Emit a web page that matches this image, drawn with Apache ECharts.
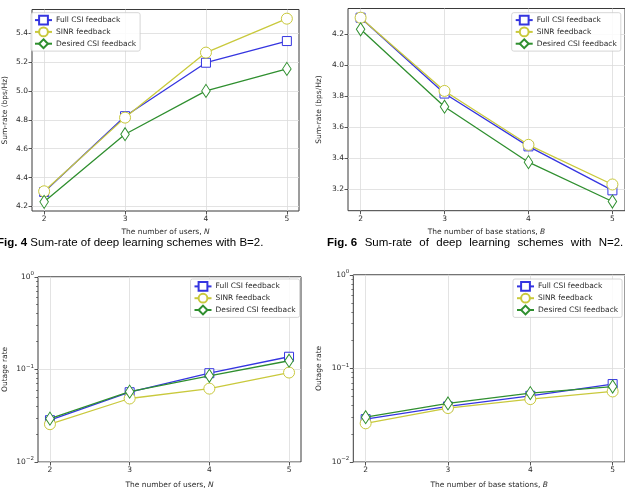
<!DOCTYPE html>
<html>
<head>
<meta charset="utf-8">
<script src="https://cdn.jsdelivr.net/npm/echarts@6/dist/echarts.min.js"></script>
<style>
html,body{margin:0;padding:0;background:#fff;}
#chart{width:625px;height:490px;}
</style>
</head>
<body>
<div id="chart"></div>
<script>
// ---------- data ----------
const xValues = [2, 3, 4, 5];
const seriesNames = ['Full CSI feedback', 'SINR feedback', 'Desired CSI feedback'];

// Fig. 4: sum-rate vs number of users N (B=2)
const rateUsersFull    = [4.300, 4.825, 5.195, 5.345];
const rateUsersSinr    = [4.305, 4.815, 5.265, 5.500];
const rateUsersDesired = [4.232, 4.700, 5.000, 5.152];

// Fig. 6: sum-rate vs number of base stations B (N=2)
const rateBsFull    = [4.305, 3.815, 3.474, 3.190];
const rateBsSinr    = [4.305, 3.832, 3.484, 3.228];
const rateBsDesired = [4.230, 3.730, 3.372, 3.118];

// outage rate vs number of users N
const outUsersFull    = [0.0283, 0.0567, 0.0910, 0.1370];
const outUsersSinr    = [0.0256, 0.0485, 0.0620, 0.0925];
const outUsersDesired = [0.0294, 0.0575, 0.0853, 0.1240];

// outage rate vs number of base stations B
const outBsFull    = [0.0287, 0.0392, 0.0510, 0.0680];
const outBsSinr    = [0.0259, 0.0377, 0.0470, 0.0567];
const outBsDesired = [0.0301, 0.0422, 0.0544, 0.0640];

// tick labels
const xTicks = [2, 3, 4, 5];
const rateUsersTicks = [4.2, 4.4, 4.6, 4.8, 5.0, 5.2, 5.4];
const rateBsTicks = [3.2, 3.4, 3.6, 3.8, 4.0, 4.2];
const minorLogTicks = [0.02,0.03,0.04,0.05,0.06,0.07,0.08,0.09,0.2,0.3,0.4,0.5,0.6,0.7,0.8,0.9];

// ---------- styling ----------
const FONT = 'DejaVu Sans';
const TXT = '#2b2b2b';
const GRIDC = '#dcdcdc';
const colors = ['#3535e0', '#c9c93c', '#2f8f2f'];
const symbols = ['rect', 'circle', 'diamond'];
const symSizes = [9, 11, [8.5, 13]];

const grids = [
  {left: 27.3, top: 9.5, width: 271.7, height: 201.5},
  {left: 348, top: 8.5, width: 278.3, height: 202.2},
  {left: 34, top: 276.8, width: 267, height: 188},
  {left: 353.3, top: 274.8, width: 272.3, height: 192.5}
].map(g => Object.assign({show: true, borderColor: '#3a3a3a', borderWidth: 1, backgroundColor: 'transparent'}, g));

const xNames = ['The number of users, {i|N}', 'The number of base stations, {i|B}',
                'The number of users, {i|N}', 'The number of base stations, {i|B}'];
const xNameGaps = [17, 17, 19, 19];

const xAxes = grids.map((g, i) => ({
  type: 'value', gridIndex: i, min: 1.85, max: 5.15,
  name: xNames[i], nameLocation: 'middle', nameGap: xNameGaps[i],
  nameTextStyle: {fontFamily: FONT, fontSize: 7.5, color: TXT, rich: {i: {fontStyle: 'italic', fontFamily: FONT, fontSize: 7.5, color: TXT}}},
  axisLine: {show: false},
  axisTick: {show: true, customValues: xTicks, length: 3.5, lineStyle: {color: TXT, width: 0.8}},
  axisLabel: {show: true, customValues: xTicks, fontFamily: FONT, fontSize: 7.5, color: TXT, margin: 4,
              formatter: v => String(Math.round(v))},
  splitLine: {show: true, lineStyle: {color: GRIDC, width: 0.8}}
}));

function supLabel(v) {
  const e = Math.round(Math.log10(v));
  return '{b|10}{s|' + (e === 0 ? '0' : '\u2212' + Math.abs(e)) + '}';
}
const logRich = {
  b: {fontFamily: FONT, fontSize: 7.5, color: TXT},
  s: {fontFamily: FONT, fontSize: 5.5, color: TXT, padding: [0, 0, 6, 0]}
};

const yAxes = [
  {type: 'value', gridIndex: 0, min: 4.1686, max: 5.5634, name: 'Sum-rate (bps/Hz)', nameGap: 23,
   axisTick: {customValues: rateUsersTicks}, axisLabel: {customValues: rateUsersTicks, formatter: v => v.toFixed(1)}},
  {type: 'value', gridIndex: 1, min: 3.0586, max: 4.3644, name: 'Sum-rate (bps/Hz)', nameGap: 25,
   axisTick: {customValues: rateBsTicks}, axisLabel: {customValues: rateBsTicks, formatter: v => v.toFixed(1)}},
  {type: 'log', logBase: 10, gridIndex: 2, min: 0.01, max: 1, name: 'Outage rate', nameGap: 29,
   axisTick: {}, axisLabel: {formatter: supLabel, rich: logRich}},
  {type: 'log', logBase: 10, gridIndex: 3, min: 0.01, max: 1, name: 'Outage rate', nameGap: 30,
   axisTick: {}, axisLabel: {formatter: supLabel, rich: logRich}}
].map(a => {
  a.position = 'left';
  a.nameLocation = 'middle';
  a.nameTextStyle = {fontFamily: FONT, fontSize: 7.5, color: TXT};
  a.axisLine = {show: false};
  a.axisTick = Object.assign({show: true, length: 3.5, lineStyle: {color: TXT, width: 0.8}}, a.axisTick);
  a.axisLabel = Object.assign({show: true, fontFamily: FONT, fontSize: 7.5, color: TXT, margin: 4}, a.axisLabel);
  a.splitLine = {show: true, lineStyle: {color: GRIDC, width: 0.8}};
  return a;
});
// minor ticks for the log axes
[2, 3].forEach(gi => {
  yAxes.push({
    type: 'log', logBase: 10, gridIndex: gi, min: 0.01, max: 1, position: 'left',
    axisLine: {show: false},
    axisTick: {show: true, customValues: minorLogTicks, length: 2, lineStyle: {color: TXT, width: 0.6}},
    axisLabel: {show: false},
    splitLine: {show: false}
  });
});

const panelData = [
  [rateUsersFull, rateUsersSinr, rateUsersDesired],
  [rateBsFull, rateBsSinr, rateBsDesired],
  [outUsersFull, outUsersSinr, outUsersDesired],
  [outBsFull, outBsSinr, outBsDesired]
];

const series = [];
panelData.forEach((arrs, gi) => {
  arrs.forEach((vals, si) => {
    series.push({
      type: 'line', name: seriesNames[si], xAxisIndex: gi, yAxisIndex: gi,
      data: xValues.map((x, k) => [x, vals[k]]),
      symbol: symbols[si], symbolSize: symSizes[si], showSymbol: true,
      lineStyle: {color: colors[si], width: 1.3},
      itemStyle: {color: '#ffffff', borderColor: colors[si], borderWidth: 1},
      emphasis: {disabled: true}, silent: true, z: 2 + si
    });
  });
});

const legendPos = [
  {left: 31, top: 12.7},
  {left: 511.7, top: 12.7},
  {left: 190.5, top: 279},
  {left: 513, top: 279}
];
const legends = legendPos.map(p => Object.assign({
  data: seriesNames, orient: 'vertical', itemWidth: 17, itemHeight: 11, itemGap: 1,
  padding: [2, 4, 2, 3], backgroundColor: 'rgba(255,255,255,0.85)', borderColor: '#cccccc', borderWidth: 0.8, borderRadius: 2,
  textStyle: {fontFamily: FONT, fontSize: 7.5, color: TXT, padding: [0, 0, 0, -1]},
  selectedMode: false
}, p));

const captionRich = {
  b: {fontFamily: 'Liberation Sans', fontWeight: 'bold', fontSize: 11.5, color: '#111'},
  n: {fontFamily: 'Liberation Sans', fontSize: 11.5, color: '#111'}
};
const gap = '  \u200A';
const caption6 = ['Sum-rate', 'of', 'deep', 'learning', 'schemes', 'with', 'N=2.'].join(gap);

const option = {
  animation: false,
  backgroundColor: '#ffffff',
  grid: grids,
  xAxis: xAxes,
  yAxis: yAxes,
  legend: legends,
  series: series,
  graphic: [
    {type: 'text', left: -3, top: 237, style: {rich: captionRich, text: '{b|Fig. 4} {n|Sum-rate of deep learning schemes with B=2.}'}},
    {type: 'text', left: 327, top: 237, style: {rich: captionRich, text: '{b|Fig. 6}' + gap + '{n|' + caption6 + '}'}}
  ]
};

const chart = echarts.init(document.getElementById('chart'), null, {renderer: 'canvas'});
chart.setOption(option);
</script>
</body>
</html>
